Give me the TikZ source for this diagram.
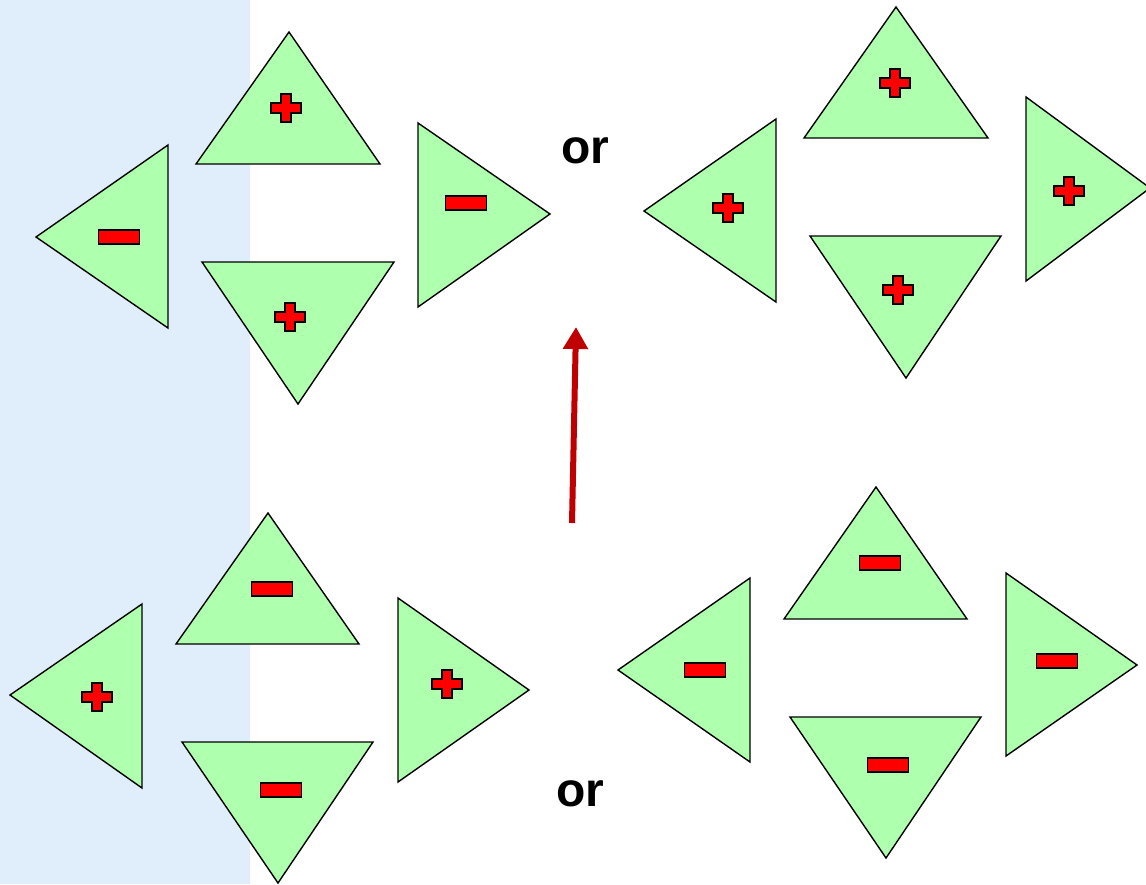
\documentclass[tikz,border=0pt]{standalone}
\usepackage{fontspec}
\setmainfont{Liberation Sans}
\usetikzlibrary{arrows.meta}
\definecolor{panel}{HTML}{E0EEFC}
\definecolor{trifill}{HTML}{AEFFAE}
\definecolor{signred}{HTML}{FF0000}
\definecolor{arrowred}{HTML}{C00000}
\tikzset{
  tri/.style={draw=black, fill=trifill, line width=1.4pt, line join=miter},
  sign/.style={draw=black, fill=signred, line width=1.6pt},
  ortext/.style={font=\fontsize{48}{48}\selectfont\bfseries, inner sep=0pt},
  pics/plus/.style={code={
    \draw[sign] (-15,-5)--(-5,-5)--(-5,-14)--(5,-14)--(5,-5)--(15,-5)--(15,5)--(5,5)--(5,14)--(-5,14)--(-5,5)--(-15,5)--cycle;}},
  pics/minus/.style={code={
    \draw[sign] (-20.5,-7)rectangle(20.5,7);}}
}
\begin{document}
\begin{tikzpicture}[x=1pt,y=-1pt]
\useasboundingbox (0,0) rectangle (1146,884);
\fill[panel] (0,0) rectangle (250,884);
% top-left group
\draw[tri] (36,237)--(168,145)--(168,328)--cycle;
\draw[tri] (289,32)--(380,164)--(196,164)--cycle;
\draw[tri] (202,262)--(394,262)--(298,404)--cycle;
\draw[tri] (418,123)--(550,214)--(418,307)--cycle;
\pic at (119,237) {minus};
\pic at (286,108) {plus};
\pic at (290,317) {plus};
\pic at (466,203) {minus};
\node[ortext] (or1) at (585,151) {or};
% top-right group
\draw[tri] (644,211)--(776,119)--(776,302)--cycle;
\draw[tri] (896,7)--(988,138)--(804,138)--cycle;
\draw[tri] (810,236)--(1001,236)--(906,378)--cycle;
\draw[tri] (1026,97)--(1150,188)--(1026,281)--cycle;
\pic at (728,208) {plus};
\pic at (895,83) {plus};
\pic at (898,290) {plus};
\pic at (1069,191) {plus};
% arrow
\coordinate (arrS) at (572,523);
\coordinate (arrE) at (576,327);
\draw[arrowred, line width=6pt, -{Triangle[width=24pt,length=22pt]}] (arrS) -- (arrE);
% bottom-left group
\draw[tri] (10,695)--(142,604)--(142,788)--cycle;
\draw[tri] (268,513)--(359,644)--(176,644)--cycle;
\draw[tri] (182,742)--(373,742)--(278,883)--cycle;
\draw[tri] (398,598)--(529,690)--(398,782)--cycle;
\pic at (97,697) {plus};
\pic at (272,589) {minus};
\pic at (281,790) {minus};
\pic at (447,684) {plus};
\node[ortext] (or2) at (580,794) {or};
% bottom-right group
\draw[tri] (618,670)--(750,578)--(750,762)--cycle;
\draw[tri] (876,487)--(967,619)--(784,619)--cycle;
\draw[tri] (790,717)--(981,717)--(886,858)--cycle;
\draw[tri] (1006,573)--(1137,665)--(1006,756)--cycle;
\pic at (705,670) {minus};
\pic at (880,563) {minus};
\pic at (888,765) {minus};
\pic at (1057,661) {minus};
\end{tikzpicture}
\end{document}
